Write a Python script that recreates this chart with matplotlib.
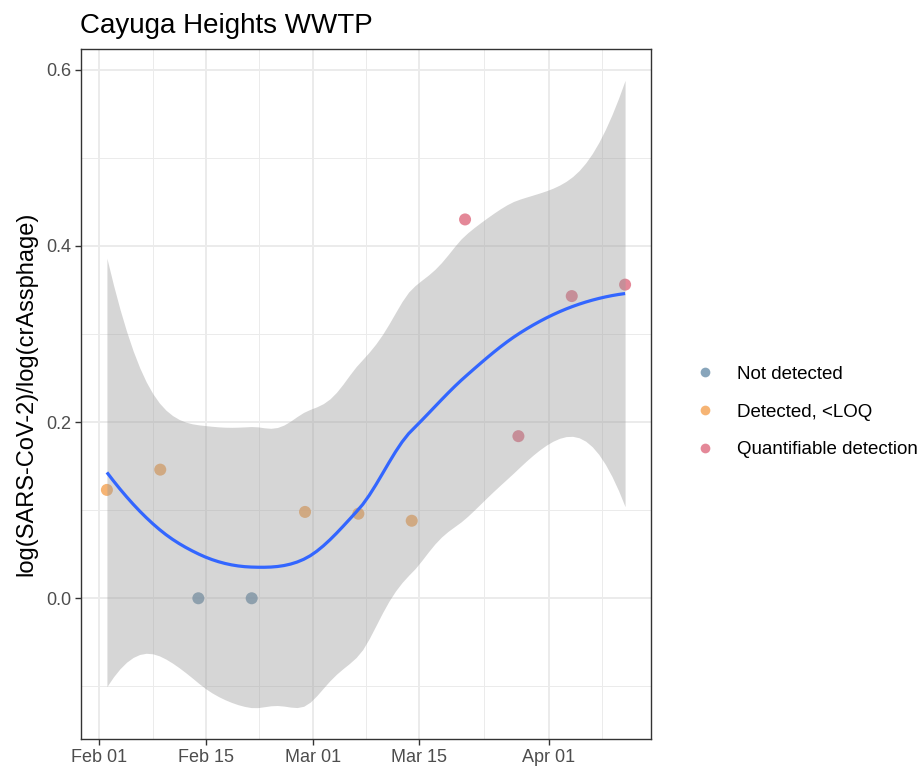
import math
import numpy as np
import matplotlib
matplotlib.use("Agg")
import matplotlib.pyplot as plt
import matplotlib.dates as mdates
from matplotlib.lines import Line2D

# ---------------- data ----------------
dates = ["2021-02-02", "2021-02-09", "2021-02-14", "2021-02-21", "2021-02-28",
         "2021-03-07", "2021-03-14", "2021-03-21", "2021-03-28", "2021-04-04",
         "2021-04-11"]
ratio = [0.123, 0.146, 0.000, 0.000, 0.098, 0.096, 0.088, 0.430, 0.184, 0.343, 0.356]
status = ["Detected, <LOQ", "Detected, <LOQ", "Not detected", "Not detected",
          "Detected, <LOQ", "Detected, <LOQ", "Detected, <LOQ",
          "Quantifiable detection", "Quantifiable detection",
          "Quantifiable detection", "Quantifiable detection"]
categories = ["Not detected", "Detected, <LOQ", "Quantifiable detection"]
cat_colors = ["#6A8FAA", "#F4A251", "#DE6A7E"]
title = "Cayuga Heights WWTP"
ylabel = "log(SARS-CoV-2)/log(crAssphage)"
yticks = [0.0, 0.2, 0.4, 0.6]
yminor = [-0.1, 0.1, 0.3, 0.5]
xtick_dates = ["2021-02-01", "2021-02-15", "2021-03-01", "2021-03-15", "2021-04-01"]
xtick_labels = ["Feb 01", "Feb 15", "Mar 01", "Mar 15", "Apr 01"]
xminor_dates = ["2021-02-08", "2021-02-22", "2021-03-08", "2021-03-23 12:00", "2021-04-08"]

FONT = ["Liberation Sans", "DejaVu Sans"]
plt.rcParams["font.family"] = FONT

x = mdates.datestr2num(dates)
y = np.array(ratio, dtype=float)
n = len(x)

# ---------------- loess (span 0.75, degree 2, kd-tree vertex interpolation) ----------------
def loess_rows(xd, x0, span=0.75, degree=2):
    """Operator rows for local value and local slope at x0."""
    q = int(np.floor(len(xd) * span))
    d = np.abs(xd - x0)
    h = np.sort(d)[q - 1]
    u = d / h
    w = np.where(u < 1, (1 - u ** 3) ** 3, 0.0)
    X = np.vander(xd - x0, degree + 1, increasing=True)
    XtW = X.T * w
    coef = np.linalg.solve(XtW @ X, XtW)
    return coef[0], coef[1]

# vertices: bounding box (expanded 0.5%) plus median splits down to 1 point per cell
order = np.argsort(x)
xs = x[order]
mu = 0.005 * (xs[-1] - xs[0])
verts = {xs[0] - mu, xs[-1] + mu}

def split(l, u):
    if u - l + 1 <= 1:
        return
    m = (l + u) // 2
    verts.add(xs[m])
    split(l, m)
    split(m + 1, u)

split(0, n - 1)
vx = np.array(sorted(verts))
vval = []
vslp = []
for v in vx:
    a, b = loess_rows(x, v)
    vval.append(a)
    vslp.append(b)
vval = np.array(vval)
vslp = np.array(vslp)

def operator_at(xq):
    out = np.zeros((len(xq), n))
    for k, xv in enumerate(xq):
        j = np.searchsorted(vx, xv, side="right") - 1
        j = min(max(j, 0), len(vx) - 2)
        a, b = vx[j], vx[j + 1]
        hh = b - a
        t = (xv - a) / hh
        h00 = 2 * t ** 3 - 3 * t ** 2 + 1
        h10 = t ** 3 - 2 * t ** 2 + t
        h01 = -2 * t ** 3 + 3 * t ** 2
        h11 = t ** 3 - t ** 2
        out[k] = h00 * vval[j] + h10 * hh * vslp[j] + h01 * vval[j + 1] + h11 * hh * vslp[j + 1]
    return out

L = operator_at(x)
res = y - L @ y
IL = np.eye(n) - L
M = IL.T @ IL
d1 = np.trace(M)
d2 = np.trace(M @ M)
sigma = math.sqrt(np.sum(res ** 2) / d1)
df = d1 ** 2 / d2

def t_cdf(t, nu):
    g = np.linspace(0, t, 20001)
    c = math.exp(math.lgamma((nu + 1) / 2) - math.lgamma(nu / 2)) / math.sqrt(nu * math.pi)
    pdf = c * (1 + g ** 2 / nu) ** (-(nu + 1) / 2)
    return 0.5 + np.trapezoid(pdf, g)

lo, hi = 0.5, 30.0
for _ in range(60):
    mid = (lo + hi) / 2
    if t_cdf(mid, df) < 0.975:
        lo = mid
    else:
        hi = mid
tq = (lo + hi) / 2

xg = np.linspace(x.min(), x.max(), 80)
G = operator_at(xg)
fit = G @ y
se = sigma * np.sqrt(np.sum(G ** 2, axis=1))
ymin_band = fit - tq * se
ymax_band = fit + tq * se

# ---------------- figure ----------------
W, H = 922, 770
fig = plt.figure(figsize=(W / 100, H / 100), dpi=100)
ax = fig.add_axes([81 / W, 1 - 739 / H, 570 / W, 690 / H])

xr = x.max() - x.min()
ax.set_xlim(x.min() - 0.05 * xr, x.max() + 0.05 * xr)
lo_y = min(ymin_band.min(), y.min())
hi_y = max(ymax_band.max(), y.max())
yr = hi_y - lo_y
ax.set_ylim(lo_y - 0.05 * yr, hi_y + 0.05 * yr)

grid_c = "#EBEBEB"
for v in mdates.datestr2num(xminor_dates):
    ax.axvline(v, color=grid_c, lw=0.7, zorder=0)
for v in mdates.datestr2num(xtick_dates):
    ax.axvline(v, color=grid_c, lw=1.4, zorder=0)
for v in yminor:
    ax.axhline(v, color=grid_c, lw=0.7, zorder=0)
for v in yticks:
    ax.axhline(v, color=grid_c, lw=1.4, zorder=0)

for cat, col in zip(categories, cat_colors):
    idx = [i for i, s in enumerate(status) if s == cat]
    ax.scatter(x[idx], y[idx], s=75, color=col, alpha=0.8, edgecolors="none", zorder=2)

ax.fill_between(xg, ymin_band, ymax_band, color="#999999", alpha=0.4, lw=0, zorder=3)
ax.plot(xg, fit, color="#3366FF", lw=2.3, zorder=4, solid_capstyle="butt")

ax.set_xticks(mdates.datestr2num(xtick_dates))
ax.set_xticklabels(xtick_labels)
ax.set_yticks(yticks)
ax.set_yticklabels([f"{v:.1f}" for v in yticks])
ax.tick_params(axis="both", length=4, width=1, color="#333333", labelcolor="#4D4D4D",
               labelsize=13, pad=3)
for sp in ax.spines.values():
    sp.set_color("#333333")
    sp.set_linewidth(1.0)

ax.set_ylabel(ylabel, fontsize=17, color="black", labelpad=6)
fig.text(80 / W, 1 - 33 / H, title, fontsize=20, color="black", ha="left", va="baseline")

handles = [Line2D([], [], marker="o", ls="", color=c, markersize=7, alpha=0.8,
                  markeredgewidth=0) for c in cat_colors]
fig.legend(handles, categories, loc="center left", bbox_to_anchor=(694 / W, 1 - 412 / H),
           frameon=False, fontsize=13.5, handlelength=1.2, handletextpad=1.1,
           labelspacing=1.1, borderpad=0, borderaxespad=0)

fig.savefig("out.png", dpi=100)
